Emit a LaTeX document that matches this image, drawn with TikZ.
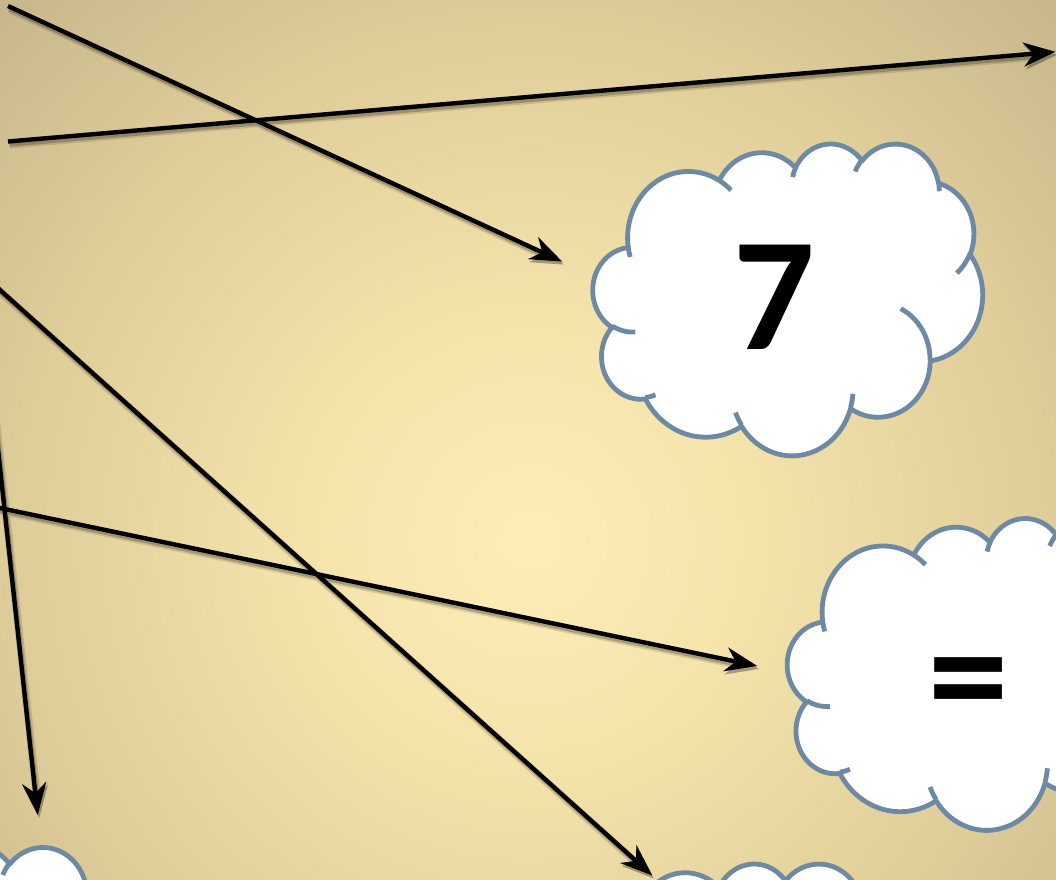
\documentclass[tikz,border=0pt]{standalone}
\usepackage{fontspec}
\newfontfamily\calib{Carlito}
\usetikzlibrary{arrows.meta}

\definecolor{bgA}{RGB}{253,237,183}
\definecolor{bgB}{RGB}{245,227,172}
\definecolor{bgC}{RGB}{225,207,155}
\definecolor{bgD}{RGB}{196,180,137}
\definecolor{cloudline}{RGB}{110,137,163}

\pgfdeclareradialshading{bgshade}{\pgfpoint{0bp}{0bp}}{color(0bp)=(bgA); color(220bp)=(bgB); color(490bp)=(bgC); color(780bp)=(bgD)}

% PowerPoint-style cloud outline (OOXML arcTo converted to parametric angles)
\def\cloudmain{}
\def\cloudinner{}
\newcommand\ooangles[4]{%
  \pgfmathsetmacro\oots{atan2((#1)*sin(#3),(#2)*cos(#3))}%
  \pgfmathsetmacro\oote{atan2((#1)*sin((#3)+(#4)),(#2)*cos((#3)+(#4)))}%
  \pgfmathsetmacro\oodl{mod(\oote-\oots+720,360)}%
}
\newcommand\addarc[4]{\ooangles{#1}{#2}{#3}{#4}%
  \xdef\cloudmain{\cloudmain arc[x radius=#1, y radius=#2, start angle=\oots, delta angle=\oodl]}}
\newcommand\addinner[6]{\ooangles{#3}{#4}{#5}{#6}%
  \xdef\cloudinner{\cloudinner (#1,#2) arc[x radius=#3, y radius=#4, start angle=\oots, delta angle=\oodl]}}

\addarc{675.3}{919.0}{-190.4875}{123.7805}
\addarc{533.3}{726.7}{-144.1024}{89.9452}
\addarc{436.5}{594.5}{-145.8079}{99.7230}
\addarc{485.7}{659.5}{-130.9861}{117.2417}
\addarc{533.3}{727.3}{-78.7089}{109.0269}
\addarc{677.5}{922.0}{-46.2673}{130.2690}
\addarc{578.5}{786.7}{0.6250}{114.0333}
\addarc{675.2}{921.5}{22.4516}{115.1726}
\addarc{772.0}{1054.3}{66.2426}{75.7110}
\addarc{436.0}{591.8}{-274.9421}{146.7356}
\addarc{434.5}{594.5}{-246.8285}{152.5189}

\addinner{469.3}{2617.7}{434.5}{594.5}{86.7420}{26.4295}
\addinner{692.8}{3489.9}{436.0}{591.8}{73.6105}{11.4475}
\addinner{1647.8}{3909.0}{675.2}{921.5}{137.6242}{14.0811}
\addinner{2882.7}{3475.1}{675.2}{921.5}{6.4533}{15.9984}
\addinner{3412.9}{2295.4}{578.5}{786.7}{-70.2924}{70.9174}
\addinner{4179.8}{1535.4}{533.3}{727.3}{30.3180}{27.7515}
\addinner{3832.4}{542.6}{485.7}{659.5}{-13.7443}{14.8512}
\addinner{2907.8}{395.2}{485.7}{659.5}{-149.1815}{18.1932}
\addinner{2214.1}{472.0}{436.5}{594.5}{-163.4943}{17.6867}
\addinner{1400.0}{519.2}{675.3}{919.0}{-66.7070}{12.3194}
\addinner{412.7}{1578.9}{675.3}{919.0}{157.6544}{11.8582}

\tikzset{
  cloudshape/.style={fill=white, draw=cloudline, line width=4.8pt, line join=round},
  cloudseam/.style={draw=cloudline, line width=4.8pt, line cap=butt},
  conn/.style={draw=black, line width=4.4pt, line cap=butt, -{Stealth[length=32pt,width=24pt,inset=10pt]}},
  connshadow/.style={draw=black, fill=black, line width=#1, line cap=butt,
    -{Stealth[length=32pt,width=24pt,inset=10pt]},
    transform canvas={shift={(1.5pt,-3pt)}}},
  bignum/.style={anchor=base, inner sep=0pt, font=\calib\bfseries\fontsize{161}{161}\selectfont}
}

\newcommand\cloudat[3]{%
  \coordinate (#1) at (#2,#3);
  \begin{scope}[shift={(#2pt,-#3pt)}, x=0.090162pt, y=-0.072153pt]
    \path[cloudshape] (390.0,1437.0) \cloudmain -- cycle;
    \path[cloudseam] \cloudinner;
  \end{scope}}

\begin{document}
\begin{tikzpicture}[x=1pt, y=-1pt]
  \useasboundingbox (0,0) rectangle (1056,879);
  \begin{scope}
    \clip (0,0) rectangle (1056,879);
    \node[inner sep=0pt, outer sep=0pt] (bg) at (530,540) {\pgfuseshading{bgshade}};

    % clouds
    \cloudat{cloudseven}{593}{143}
    \cloudat{cloudeq}{787.5}{517.5}
    \cloudat{cloudbl}{-259.4}{846.4}
    \cloudat{cloudbm}{516.5}{863}

    \node[bignum] (seven) at (774,349.5) {7};
    \node[bignum] (equals) at (969,729) {=};

    % connector end points
    \coordinate (s1) at (8,6);        \coordinate (e1) at (562.3,261.6);
    \coordinate (s2) at (8,141.5);    \coordinate (e2) at (1055.5,51.8);
    \coordinate (s3) at (-12,279.2);  \coordinate (e3) at (652.3,875.5);
    \coordinate (s4) at (-10.6,370);  \coordinate (e4) at (37.7,815);
    \coordinate (s5) at (-12,505.5);  \coordinate (e5) at (757.3,666);

    % soft shadows
    \begin{scope}[transparency group, opacity=0.12]
      \foreach \i in {1,...,5} \draw[connshadow=8pt] (s\i) -- (e\i);
    \end{scope}
    \begin{scope}[transparency group, opacity=0.22]
      \foreach \i in {1,...,5} \draw[connshadow=4.4pt] (s\i) -- (e\i);
    \end{scope}

    % connectors
    \draw[conn] (s1) -- (e1);
    \draw[conn] (s2) -- (e2);
    \draw[conn] (s3) -- (e3);
    \draw[conn] (s4) -- (e4);
    \draw[conn] (s5) -- (e5);
  \end{scope}
\end{tikzpicture}
\end{document}
